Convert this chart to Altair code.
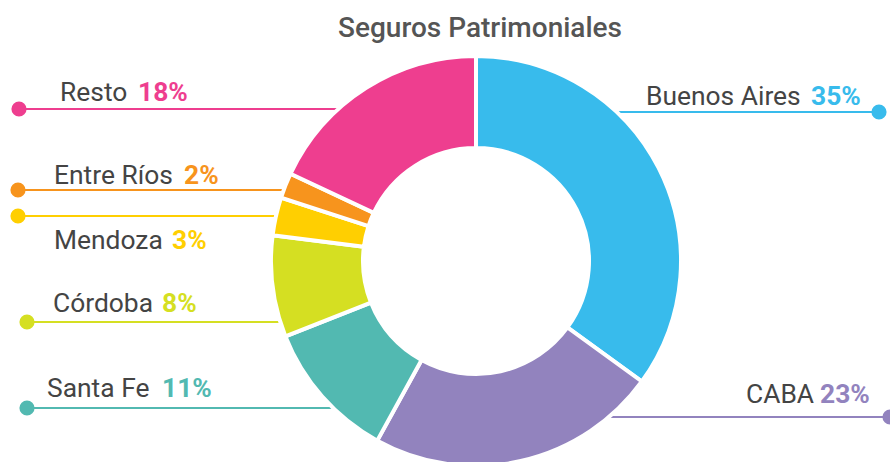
import math
import altair as alt
import pandas as pd

# ---- data ----
names = ["Buenos Aires", "CABA", "Santa Fe", "Córdoba", "Mendoza", "Entre Ríos", "Resto"]
values = [35, 23, 11, 8, 3, 2, 18]
colors = ["#38BBEC", "#9283BE", "#52B9B1", "#D5DF22", "#FFCF01", "#F7941D", "#EE3E8F"]
title_text = "Seguros Patrimoniales"

# ---- layout (annotation positions, px) ----
W, H = 890, 462
CX, CY, R_OUT, R_IN = 476, 261, 205, 113
line_y = [112, 417, 408, 322, 216, 190, 109]
dot_x = [879, 890, 27, 27, 18, 18, 19]
name_x = [646, 746, 47, 53, 54, 54, 60]
pct_x = [811, 820, 162, 162, 172, 184, 138]
text_y = [105, 403, 397, 312, 249, 184, 101]

end_x = []
for ly, dx in zip(line_y, dot_x):
    off = math.sqrt(max(R_OUT ** 2 - (ly - CY) ** 2, 0))
    end_x.append(CX + off if dx > CX else CX - off)

df = pd.DataFrame({
    "name": names,
    "value": values,
    "idx": list(range(len(names))),
    "pct": [f"{v}%" for v in values],
    "line_y": line_y,
    "dot_x": dot_x,
    "end_x": end_x,
    "name_x": name_x,
    "pct_x": pct_x,
    "text_y": text_y,
})

color_scale = alt.Scale(domain=names, range=colors)
xs = alt.Scale(domain=[0, W], nice=False, zero=False)
ys = alt.Scale(domain=[H, 0], nice=False, zero=False)
FONT = "Roboto"

base = alt.Chart(df)

rules = base.mark_rule(strokeWidth=2).encode(
    x=alt.X("dot_x:Q", scale=xs, axis=None),
    x2="end_x:Q",
    y=alt.Y("line_y:Q", scale=ys, axis=None),
    color=alt.Color("name:N", scale=color_scale, legend=None),
)

dots = base.mark_circle(size=230, opacity=1).encode(
    x=alt.X("dot_x:Q", scale=xs, axis=None),
    y=alt.Y("line_y:Q", scale=ys, axis=None),
    color=alt.Color("name:N", scale=color_scale, legend=None),
)

arcs = base.mark_arc(
    outerRadius=R_OUT, innerRadius=R_IN, stroke="white", strokeWidth=4
).encode(
    theta=alt.Theta("value:Q", stack=True),
    order=alt.Order("idx:Q"),
    color=alt.Color("name:N", scale=color_scale, legend=None),
    x=alt.value(CX),
    y=alt.value(CY),
)

name_text = base.mark_text(
    align="left", baseline="alphabetic", font=FONT, fontSize=26.4, color="#444444"
).encode(
    x=alt.X("name_x:Q", scale=xs, axis=None),
    y=alt.Y("text_y:Q", scale=ys, axis=None),
    text="name:N",
)

pct_text = base.mark_text(
    align="left", baseline="alphabetic", font=FONT, fontSize=26.4, fontWeight="bold"
).encode(
    x=alt.X("pct_x:Q", scale=xs, axis=None),
    y=alt.Y("text_y:Q", scale=ys, axis=None),
    text="pct:N",
    color=alt.Color("name:N", scale=color_scale, legend=None),
)

title = alt.Chart(pd.DataFrame({"t": [title_text]})).mark_text(
    align="center", baseline="alphabetic", font=FONT, fontSize=28,
    fontWeight=500, color="#555555"
).encode(
    x=alt.value(480), y=alt.value(37), text="t:N"
)

chart = alt.layer(rules, dots, arcs, name_text, pct_text, title).properties(
    width=W, height=H, padding=0, autosize=alt.AutoSizeParams(type="none")
).configure_view(stroke=None)

chart.save("out.html", embed_options={"renderer": "svg", "actions": False})
